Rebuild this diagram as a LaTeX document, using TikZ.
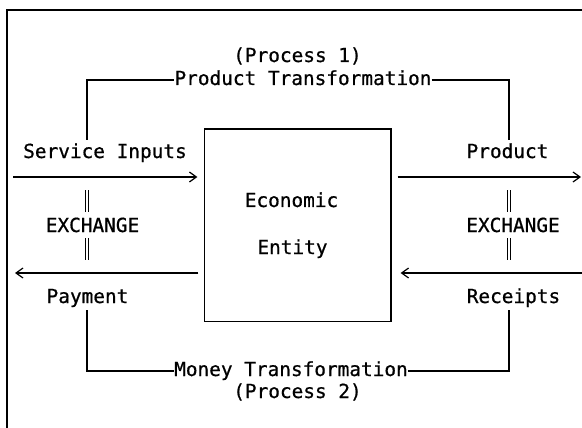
\documentclass[tikz,border=0pt]{standalone}
\usepackage{fontspec}
\setmonofont[FakeBold=0.7]{DejaVu Sans Mono}
\usepackage{tikz}
\usetikzlibrary{arrows.meta}
\usetikzlibrary{positioning}

\tikzset{
  txt/.style={font=\ttfamily\fontsize{19.4}{22}\selectfont, inner sep=0pt,
    text height=14pt, text depth=4pt, anchor=base},
  link/.style={line width=1.2pt},
  flow/.style={line width=1.2pt, -{Straight Barb[length=7pt,width=10pt,line width=1.2pt]}},
  barline/.style={line width=0.8pt},
}

\begin{document}
\begin{tikzpicture}[x=1pt, y=-1pt]
            \clip (0,0) rectangle (582,428);
            \draw[line width=2pt] (590,10) -- (7,10) -- (7,440);

            \node[draw, line width=1.2pt, inner sep=0pt, minimum width=186.5pt, minimum height=192.5pt] (box) at (297.75,225.25) {};
            \node[txt] (econ) at (291.5,207) {Economic};
            \node[txt] (ent) at (292.5,254) {Entity};

            \node[txt] (p1) at (297.5,62) {(Process 1)};
            \node[txt] (ptrans) at (303,85) {Product Transformation};
            \node[txt] (mtrans) at (291,376) {Money Transformation};
            \node[txt] (p2) at (297.5,398) {(Process 2)};

            \node[txt] (svc) at (105,158) {Service Inputs};
            \node[txt] (exL) at (92.5,232) {EXCHANGE};
            \node[txt] (pay) at (87.5,303) {Payment};
            \node[txt] (prod) at (507.5,158) {Product};
            \node[txt] (exR) at (513,232) {EXCHANGE};
            \node[txt] (rec) at (513.5,303) {Receipts};

            \coordinate (lcol) at (87,0);
            \coordinate (rcol) at (509,0);
            \coordinate (inS) at (13,177);
            \coordinate (outP) at (15,273);
            \coordinate (outQ) at (581,177);
            \coordinate (inR) at (586,273);

            % the two transformation loops
            \draw[link, shorten <=4pt] (lcol |- svc.north) |- (ptrans.west);
            \draw[link, shorten >=4pt] (ptrans.east) -| (rcol |- prod.north);
            \draw[link, shorten <=3pt] (lcol |- pay.south) |- (mtrans.west);
            \draw[link, shorten >=3pt] (mtrans.east) -| (rcol |- rec.south);

            % exchange flows
            \draw[flow, shorten >=6.5pt] (inS) -- (inS -| box.west);
            \draw[flow, shorten <=5.5pt] (outP -| box.west) -- (outP);
            \draw[flow, shorten <=6pt] (box.east |- outQ) -- (outQ);
            \draw[flow, shorten >=9pt] (inR) -- (inR -| box.east);

            % double bars round EXCHANGE
            \foreach \c/\t in {lcol/exL, rcol/exR} {
              \draw[barline] ([xshift=-1.2pt]\c |- \t.north) ++(0,-6) -- ++(0,-22)
                             ([xshift=1.2pt]\c |- \t.north) ++(0,-6) -- ++(0,-22);
              \draw[barline] ([xshift=-1.2pt]\c |- \t.south) ++(0,2) -- ++(0,22)
                             ([xshift=1.2pt]\c |- \t.south) ++(0,2) -- ++(0,22);
            }
        \end{tikzpicture}
\end{document}
